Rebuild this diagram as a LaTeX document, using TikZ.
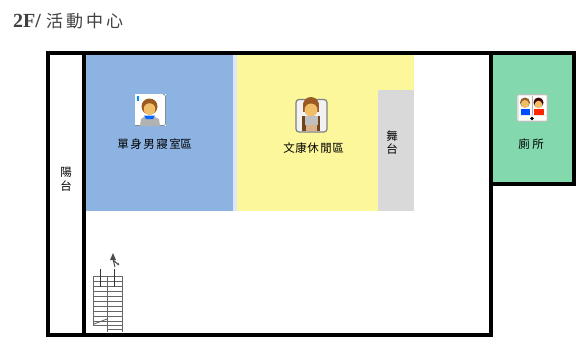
\documentclass[tikz,border=0pt]{standalone}
\usepackage{fontspec}
\setmainfont{Liberation Serif}
\newfontfamily\cjk{Noto Sans CJK TC}
\definecolor{bluezone}{HTML}{8DB3E2}
\definecolor{paleblue}{HTML}{DCE8F8}
\definecolor{yellowzone}{HTML}{FBF79A}
\definecolor{greyzone}{HTML}{D9D9D9}
\definecolor{greenzone}{HTML}{84D8AE}
\definecolor{titlegrey}{HTML}{404040}
\definecolor{skin}{HTML}{F0BE68}
\definecolor{hair}{HTML}{9A5A22}
\tikzset{
  x=1pt,y=-1pt,
  wall/.style={line width=4pt,line cap=rect,line join=miter,black},
  lbl/.style={inner sep=0pt,font=\cjk\fontsize{11.5}{13}\selectfont,text=black},
  stair/.style={line width=0.7pt,black!60},
}
\begin{document}
\begin{tikzpicture}
\useasboundingbox (0,0) rectangle (576,338);
\fill[white] (0,0) rectangle (576,338);
% zones
\fill[bluezone] (84,54) rectangle (233,211);
\fill[paleblue] (233,54) rectangle (237,211);
\fill[yellowzone] (237,54) rectangle (414,211);
\fill[greyzone] (378,90) rectangle (414,211);
\fill[greenzone] (492,54) rectangle (573,182);
% walls
\draw[wall] (48,335) -- (48,52.5) -- (573.7,52.5) -- (573.7,183.7) -- (491.3,183.7);
\draw[wall] (83.5,52.5) -- (83.5,335);
\draw[wall] (491.3,52.5) -- (491.3,335);
\draw[wall] (48,335) -- (491.3,335);
% title
\node[anchor=west,inner sep=0pt,text=titlegrey,font=\bfseries\fontsize{20}{22}\selectfont] (title) at (13,21) {2F/};
\foreach \n/\c/\px in {t1/活/46,t2/動/66,t3/中/86,t4/心/106}
  \node[anchor=west,inner sep=0pt,text=titlegrey,font=\cjk\fontsize{17}{19}\selectfont] (\n) at (\px,21) {\c};
% labels
\foreach \n/\c/\px in {a1/單/123,a2/身/136,a3/男/149,a4/寢/162,a5/室/175,a6/區/186}
  \node[lbl] (\n) at (\px,144) {\c};
\foreach \n/\c/\px in {b1/文/289,b2/康/301,b3/休/313,b4/閒/326,b5/區/338}
  \node[lbl] (\n) at (\px,148) {\c};
\node[lbl] (s1) at (392,136) {舞};
\node[lbl] (s2) at (392,149) {台};
\node[lbl] (p1) at (66,172) {陽};
\node[lbl] (p2) at (66,186) {台};
\node[lbl] (w1) at (524,144) {廁};
\node[lbl] (w2) at (538,144) {所};
% icon dorm
\fill[white] (135,94) rectangle (166,126);
\draw[black!45,line width=0.8pt,rounded corners=2pt] (163,94.5) -- (165.5,94.5) -- (165.5,125.5) -- (157,125.5);
\draw[black!45,line width=0.8pt] (135,125.5) -- (141,125.5);
\fill[black!30] (140,126) -- (141,119) -- (144,117) -- (155,117) -- (159,119) -- (160,126) -- cycle;
\fill[blue!60!cyan] (144,115.5) -- (155,115.5) -- (153,119) -- (146,119) -- cycle;
\fill[hair] (149.5,106.5) circle (8);
\fill[skin] (149.5,109) circle (5.8);
\fill[blue!45!cyan] (137,96) rectangle (139,101);
% icon rec
\draw[fill=white!95!black,draw=black!50,line width=1.2pt,rounded corners=3pt] (296,99.5) rectangle (327,132);
\fill[hair!75!black] (302,116) rectangle (320,131);
\fill[hair] (303,103) rectangle (319,112);
\fill[hair] (311,105) circle (8);
\fill[skin] (311,110) circle (6.5);
\fill[black!25] (305,116) rectangle (318,125);
\fill[brown!60!white] (306,125) rectangle (317,131);
% icon wc
\draw[fill=black!8,draw=black!25,line width=0.8pt,rounded corners=2pt] (517,94.5) rectangle (547.5,121.5);
\fill[white] (519,96) rectangle (531.5,115);
\fill[white] (533,96) rectangle (546,115);
\fill[black!30] (531.5,96) rectangle (533,115);
\fill[hair] (525,102.5) circle (5);
\fill[skin] (525,104) circle (4);
\fill[blue!70!cyan] (520.5,109) rectangle (530,115);
\fill[black!75!red] (538.5,102.5) circle (5);
\fill[skin] (538.5,104.5) circle (3.8);
\fill[red!70!orange] (534,109) rectangle (543.5,115);
\fill[white] (519,116) rectangle (546,120);
\fill[black] (532,118.5) circle (1.8);
% stairs
\draw[stair] (93,276) -- (93,325) (107,276) -- (107,332) (122,276) -- (122,332);
\foreach \yy in {276,281,286,291,296,301,306,311,316,321,325}
  \draw[stair] (93,\yy) -- (122,\yy);
\draw[stair] (107,329) -- (122,329);
\coordinate (arrL0) at (100.6,287);
\coordinate (arrL1) at (100.6,269);
\coordinate (arrR0) at (114.5,287);
\coordinate (arrR1) at (114.5,269);
\draw[line width=1.1pt,black!80] (arrL0) -- (arrL1);
\draw[line width=1.1pt,black!80] (arrR0) -- (arrR1);
\fill[black!70] (110,260) -- (113,253) -- (116,260) -- cycle;
\draw[line width=1pt,black!70] (113,259) -- (115,267) (113,260) -- (119,265);
\fill[black!60] (118,264) circle (1.4);
\draw[line width=0.9pt,black!60] (94,324) -- (107,319);
\end{tikzpicture}
\end{document}
